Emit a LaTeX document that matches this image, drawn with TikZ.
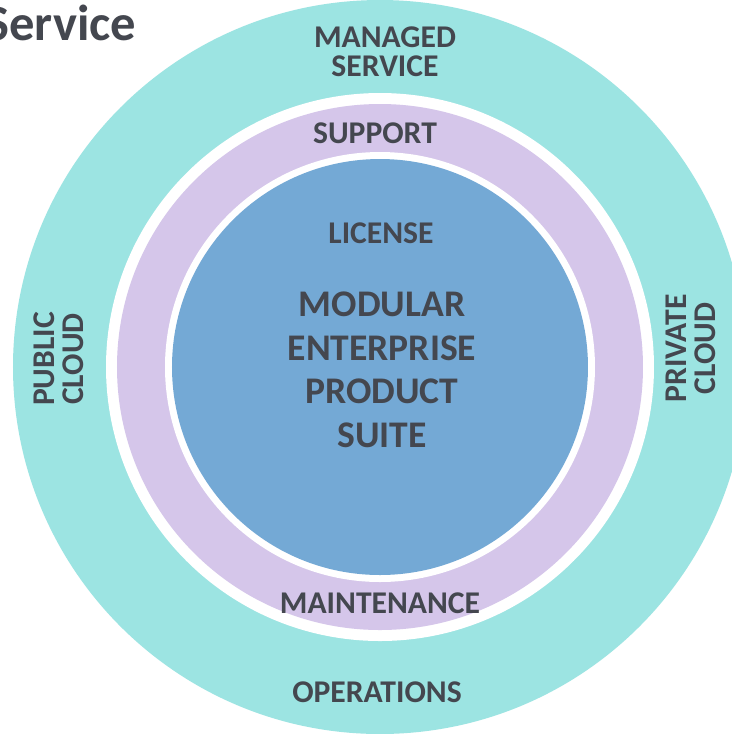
\documentclass[tikz,border=0pt]{standalone}
\usepackage{fontspec}
\setmainfont{Carlito}
\definecolor{ringteal}{HTML}{9CE4E2}
\definecolor{ringlilac}{HTML}{D5C6EA}
\definecolor{coreblue}{HTML}{74A9D5}
\definecolor{labelgray}{HTML}{44474F}
\tikzset{
  lbl/.style={text=labelgray,inner sep=0pt,align=center,
    font=\bfseries\fontsize{9}{8.2}\selectfont},
  corelbl/.style={lbl,font=\bfseries\fontsize{10.7}{12.4}\selectfont},
  titlelbl/.style={lbl,font=\bfseries\fontsize{14.4}{15}\selectfont}
}
\def\ring#1#2{\fill[#1] (380,367) circle (#2);}

\begin{document}
\begin{tikzpicture}[x=0.1mm,y=-0.1mm]
\clip (0,0) rectangle (732,734);
\fill[white] (0,0) rectangle (732,734);
% rings, outside in
\ring{ringteal}{367}
\ring{white}{274}
\ring{ringlilac}{263}
\ring{white}{215}
\ring{coreblue}{208}
% heading
\node[titlelbl,anchor=base east] (title) at (137,40) {Service};
% outer ring
\node[lbl] (managed) at (385,51.5) {MANAGED\\SERVICE};
\node[lbl,anchor=base] (operations) at (377,702) {OPERATIONS};
\node[lbl,rotate=90] (public) at (58.5,359) {PUBLIC\\CLOUD};
\node[lbl,rotate=90] (private) at (691,348.5) {PRIVATE\\CLOUD};
% middle ring
\node[lbl,anchor=base] (support) at (375,143) {SUPPORT};
\node[lbl,anchor=base] (maintenance) at (380,613) {MAINTENANCE};
% core
\node[lbl,anchor=base] (license) at (381,243) {LICENSE};
\node[corelbl] (suite) at (382,370) {MODULAR\\ENTERPRISE\\PRODUCT\\SUITE};
\end{tikzpicture}
\end{document}
